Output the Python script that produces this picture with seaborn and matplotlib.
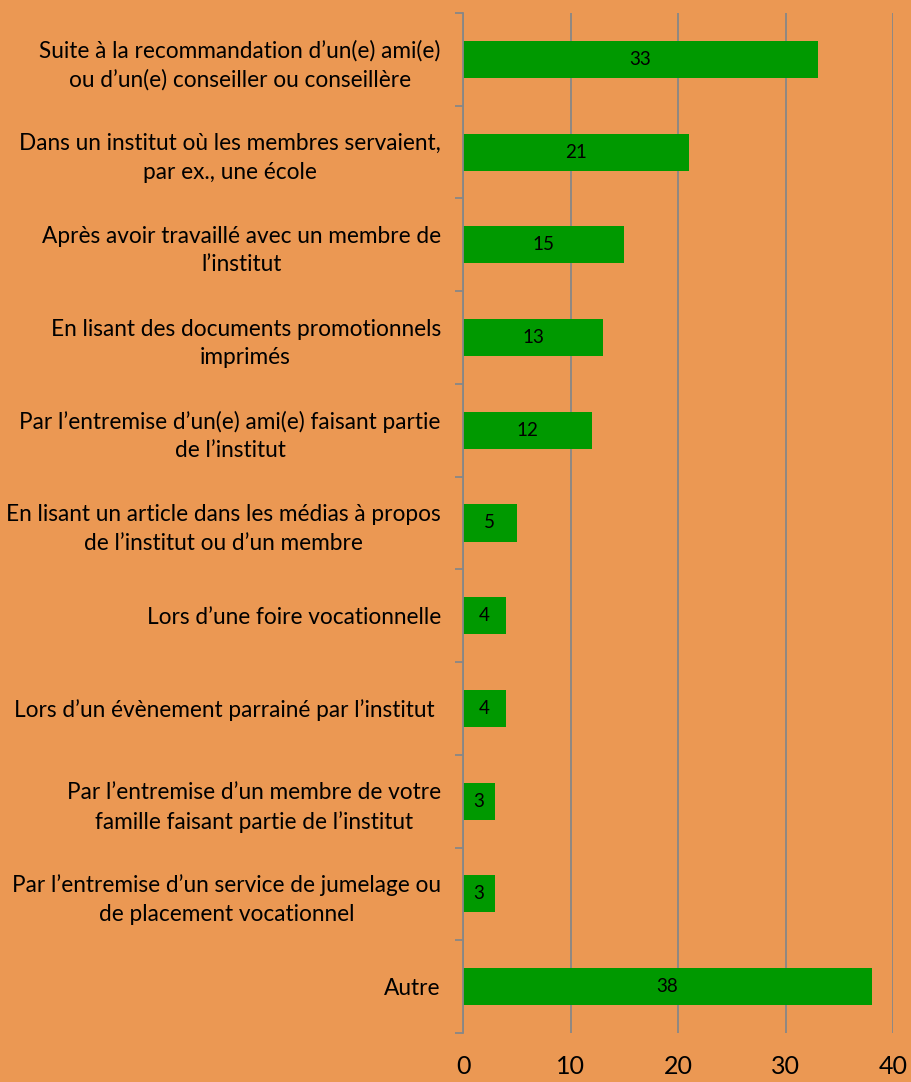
import matplotlib
matplotlib.use("Agg")
import matplotlib.pyplot as plt
import seaborn as sns
import pandas as pd

# Data
categories = [
    "Suite à la recommandation d\u2019un(e) ami(e)\nou d\u2019un(e) conseiller ou conseillère",
    "Dans un institut où les membres servaient,\npar ex., une école",
    "Après avoir travaillé avec un membre de\nl\u2019institut",
    "En lisant des documents promotionnels\nimprimés",
    "Par l\u2019entremise d\u2019un(e) ami(e) faisant partie\nde l\u2019institut",
    "En lisant un article dans les médias à propos\nde l\u2019institut ou d\u2019un membre",
    "Lors d\u2019une foire vocationnelle",
    "Lors d\u2019un évènement parrainé par l\u2019institut ",
    "Par l\u2019entremise d\u2019un membre de votre\nfamille faisant partie de l\u2019institut",
    "Par l\u2019entremise d\u2019un service de jumelage ou\nde placement vocationnel",
    "Autre",
]
counts = [33, 21, 15, 13, 12, 5, 4, 4, 3, 3, 38]
x_ticks = [0, 10, 20, 30, 40]

bg = "#EB9853"
bar_color = "#009900"
grid_color = "#878787"

sns.set_theme(style="white")
plt.rcParams["font.family"] = ["Lato", "DejaVu Sans"]
plt.rcParams["text.color"] = "black"

df = pd.DataFrame({"cat": categories, "n": counts})

fig = plt.figure(figsize=(9.11, 10.82), dpi=100, facecolor=bg)
ax = fig.add_axes([463 / 911, 1 - 1033 / 1082, 430 / 911, 1020 / 1082])
ax.set_facecolor(bg)

sns.barplot(data=df, x="n", y="cat", color=bar_color, width=0.4,
            saturation=1, linewidth=0, edgecolor="none", ax=ax, zorder=3)

ax.set_xlim(0, 40)
ax.set_ylim(len(categories) - 0.5, -0.5)
ax.set_xticks(x_ticks)
ax.set_xticklabels([str(t) for t in x_ticks], fontsize=18)
ax.tick_params(axis="x", length=0, pad=16, labelcolor="black")
ax.xaxis.grid(True, color=grid_color, linewidth=1.3, zorder=0)
ax.yaxis.grid(False)

# category boundaries as outer tick marks
ax.set_yticks([i - 0.5 for i in range(len(categories) + 1)], minor=True)
ax.tick_params(axis="y", which="minor", length=6, width=1.3, color=grid_color, left=True)
ax.tick_params(axis="y", which="major", length=0, pad=16, labelsize=16.3, labelcolor="black")
for lbl in ax.get_yticklabels():
    lbl.set_multialignment("center")
    lbl.set_linespacing(1.45)

ax.set_xlabel("")
ax.set_ylabel("")
for side in ["top", "right", "bottom"]:
    ax.spines[side].set_visible(False)
ax.spines["left"].set_color(grid_color)
ax.spines["left"].set_linewidth(1.3)
ax.spines["left"].set_zorder(4)

# value labels centered in the bars
for i, v in enumerate(counts):
    ax.text(v / 2, i, str(v), ha="center", va="center", fontsize=13.5,
            color="black", zorder=5)

fig.savefig("out.png", dpi=100, facecolor=bg)
